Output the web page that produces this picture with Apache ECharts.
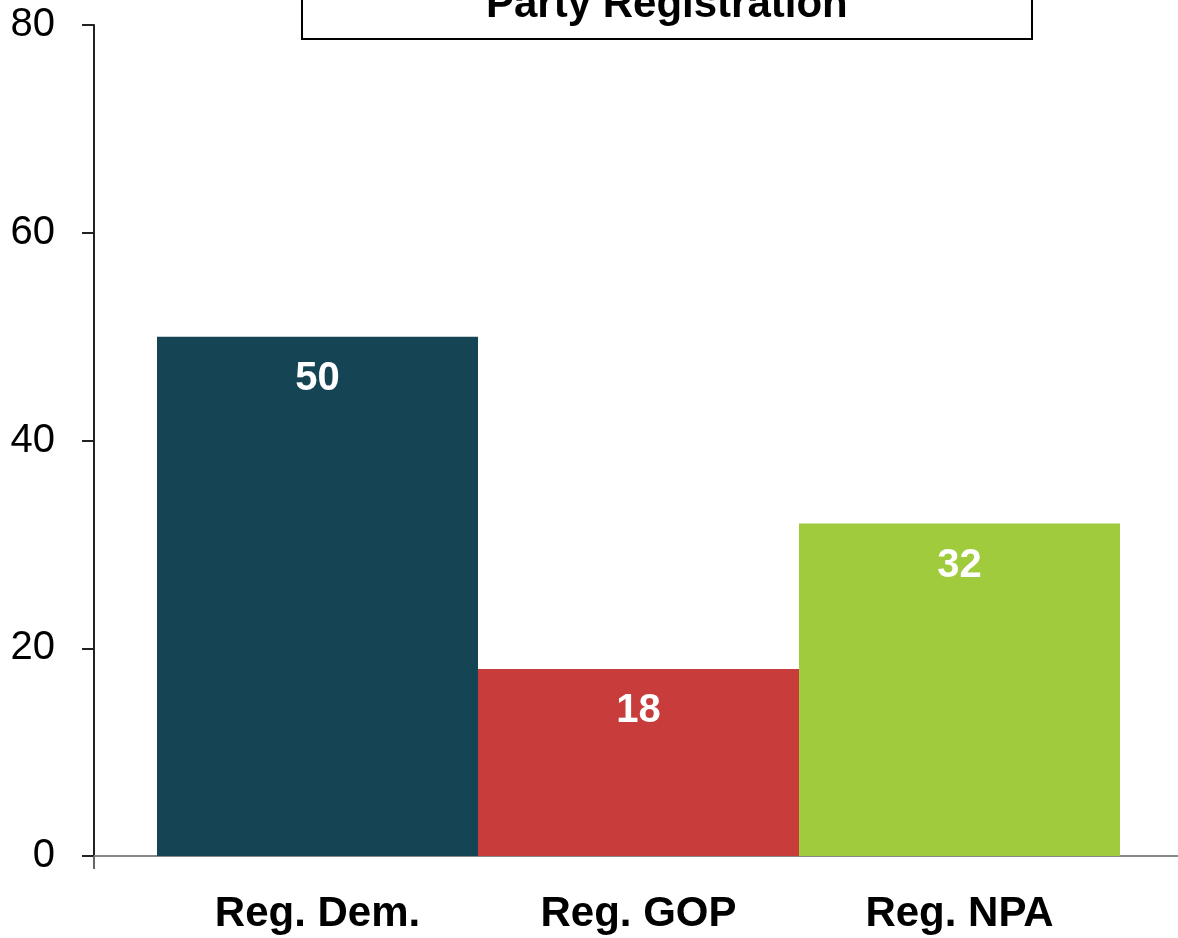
<!DOCTYPE html>
<html>
<head>
<meta charset="utf-8">
<script src="https://cdn.jsdelivr.net/npm/echarts@6/dist/echarts.min.js"></script>
<style>
  html, body { margin: 0; padding: 0; background: #fff; }
  #chart { width: 1178px; height: 938px; }
</style>
</head>
<body>
<div id="chart"></div>
<script>
const categories = ['Reg. Dem.', 'Reg. GOP', 'Reg. NPA']
const values = [50, 18, 32]
const barColors = ['#154554', '#C93C3C', '#A0CB3C']
const yTicks = { min: 0, max: 80, interval: 20 }

const font = 'Liberation Sans, Arial, sans-serif'
const myChart = echarts.init(document.getElementById('chart'))

myChart.setOption({
  animation: false,
  textStyle: { fontFamily: font },
  title: {
    text: 'Party Registration',
    left: 302,
    top: -31,
    padding: [12, 184, 10, 184],
    borderColor: '#000',
    borderWidth: 2,
    textStyle: {
      fontFamily: font,
      fontSize: 42,
      lineHeight: 48,
      fontWeight: 'bold',
      color: '#000'
    }
  },
  grid: [
    { left: 94, right: 0, top: 25, bottom: 82 },
    { left: 157, right: 58, top: 25, bottom: 82 }
  ],
  xAxis: [
    {
      // long baseline from the y axis to the right edge
      gridIndex: 0,
      type: 'value',
      min: 0,
      max: 1,
      interval: 1,
      axisLabel: { show: false },
      splitLine: { show: false },
      axisLine: { show: true, lineStyle: { color: '#888', width: 2 } },
      axisTick: { show: true, customValues: [0], length: 13, lineStyle: { color: '#666', width: 2 } }
    },
    {
      gridIndex: 1,
      type: 'category',
      data: categories,
      axisLine: { show: false },
      axisTick: { show: false },
      axisLabel: {
        margin: 37,
        fontSize: 42,
        fontWeight: 'bold',
        color: '#000',
        fontFamily: font
      }
    }
  ],
  yAxis: [
    {
      gridIndex: 0,
      type: 'value',
      min: yTicks.min,
      max: yTicks.max,
      interval: yTicks.interval,
      splitLine: { show: false },
      axisLine: { show: true, lineStyle: { color: '#222', width: 2 } },
      axisTick: { show: true, length: 12, lineStyle: { color: '#222', width: 2 } },
      axisLabel: { margin: 39, fontSize: 40, color: '#000', fontFamily: font }
    },
    {
      gridIndex: 1,
      type: 'value',
      min: yTicks.min,
      max: yTicks.max,
      show: false
    }
  ],
  series: [
    {
      type: 'bar',
      xAxisIndex: 1,
      yAxisIndex: 1,
      barCategoryGap: 0,
      data: values.map((v, i) => ({ value: v, itemStyle: { color: barColors[i] } })),
      label: {
        show: true,
        position: 'insideTop',
        distance: 22,
        color: '#fff',
        fontSize: 40,
        fontWeight: 'bold',
        fontFamily: font
      }
    }
  ]
})
</script>
</body>
</html>
